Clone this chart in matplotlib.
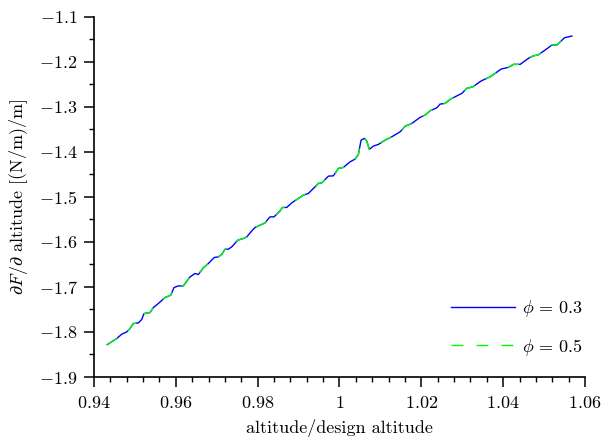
import matplotlib
matplotlib.use('Agg')
import matplotlib.pyplot as plt
from matplotlib.ticker import MultipleLocator, FuncFormatter

plt.rcParams['font.family'] = 'serif'
plt.rcParams['font.serif'] = ['cmr10']
plt.rcParams['mathtext.fontset'] = 'cm'
plt.rcParams['axes.formatter.use_mathtext'] = True

# altitude / design altitude
altitude = [0.94325, 0.94555, 0.94677, 0.94800, 0.94880, 0.94961, 0.95083, 0.95166,
            0.95223, 0.95369, 0.95450, 0.95572, 0.95736, 0.95875, 0.95956, 0.96061,
            0.96183, 0.96347, 0.96469, 0.96550, 0.96672, 0.96795, 0.96941, 0.97039,
            0.97122, 0.97203, 0.97284, 0.97367, 0.97513, 0.97650, 0.97734, 0.97895,
            0.97936, 0.98059, 0.98181, 0.98303, 0.98401, 0.98548, 0.98604, 0.98712,
            0.98834, 0.98995, 0.99117, 0.99240, 0.99403, 0.99484, 0.99567, 0.99729,
            0.99851, 0.99973, 1.00095, 1.00259, 1.00381, 1.00462, 1.00528, 1.00609,
            1.00667, 1.00731, 1.00829, 1.00951, 1.01115, 1.01279, 1.01482, 1.01604,
            1.01768, 1.01971, 1.02093, 1.02215, 1.02379, 1.02460, 1.02582, 1.02704,
            1.02826, 1.02990, 1.03113, 1.03259, 1.03462, 1.03682, 1.03804, 1.03951,
            1.04130, 1.04252, 1.04416, 1.04619, 1.04741, 1.04849, 1.05027, 1.05191,
            1.05313, 1.05499, 1.05680]

# dF/d altitude for phi = 0.3
dF_phi03 = [-1.8280, -1.8147, -1.8051, -1.8000, -1.7924, -1.7813, -1.7800, -1.7724,
            -1.7591, -1.7569, -1.7458, -1.7369, -1.7235, -1.7184, -1.7013, -1.6977,
            -1.6977, -1.6777, -1.6702, -1.6724, -1.6577, -1.6480, -1.6346, -1.6333,
            -1.6280, -1.6162, -1.6162, -1.6111, -1.5962, -1.5924, -1.5888, -1.5717,
            -1.5680, -1.5629, -1.5577, -1.5444, -1.5444, -1.5311, -1.5235, -1.5235,
            -1.5133, -1.5035, -1.4962, -1.4924, -1.4777, -1.4702, -1.4689, -1.4540,
            -1.4533, -1.4369, -1.4346, -1.4222, -1.4162, -1.4058, -1.3740, -1.3702,
            -1.3762, -1.3946, -1.3873, -1.3835, -1.3740, -1.3666, -1.3555, -1.3433,
            -1.3369, -1.3235, -1.3184, -1.3089, -1.3022, -1.2940, -1.2924, -1.2835,
            -1.2778, -1.2702, -1.2591, -1.2556, -1.2427, -1.2333, -1.2258, -1.2162,
            -1.2124, -1.2058, -1.2058, -1.1924, -1.1867, -1.1851, -1.1740, -1.1629,
            -1.1629, -1.1467, -1.1429]

# phi = 0.5 lies on top of phi = 0.3 at this resolution
dF_phi05 = list(dF_phi03)

labels = [r'$\phi\,=\,0.3$', r'$\phi\,=\,0.5$']

fig = plt.figure(figsize=(6.13, 4.41), dpi=100)
ax = fig.add_axes([0.1533, 0.1451, 0.8010, 0.8170])

ax.plot(altitude, dF_phi03, color='blue', linewidth=1.0, label=labels[0])
ax.plot(altitude, dF_phi05, color='lime', linewidth=1.0, dashes=(8.6, 9.4), label=labels[1])

ax.set_xlim(0.94, 1.06)
ax.set_ylim(-1.9, -1.1)

ax.xaxis.set_major_locator(MultipleLocator(0.02))
ax.xaxis.set_minor_locator(MultipleLocator(0.004))
ax.yaxis.set_major_locator(MultipleLocator(0.1))
ax.yaxis.set_minor_locator(MultipleLocator(0.05))
fmt = FuncFormatter(lambda v, pos: r'$%g$' % round(v, 4))
ax.xaxis.set_major_formatter(fmt)
ax.yaxis.set_major_formatter(fmt)

for side in ['top', 'right']:
    ax.spines[side].set_visible(False)
for side in ['left', 'bottom']:
    ax.spines[side].set_linewidth(1.2)

ax.tick_params(which='major', direction='out', length=7, width=1.1, labelsize=13, pad=6)
ax.tick_params(which='minor', direction='out', length=3.5, width=1.0)
ax.tick_params(axis='y', which='major', pad=5)

ax.set_xlabel('altitude/design altitude', fontsize=13, labelpad=6)
ax.set_ylabel(r'$\partial F/\partial$ altitude [(N/m)/m]', fontsize=13, labelpad=6)

ax.legend(loc='lower right', bbox_to_anchor=(1.028, 0.009), frameon=False, fontsize=13,
          handlelength=3.5, labelspacing=0.95, handletextpad=0.4)

fig.savefig('out.png', dpi=100)
